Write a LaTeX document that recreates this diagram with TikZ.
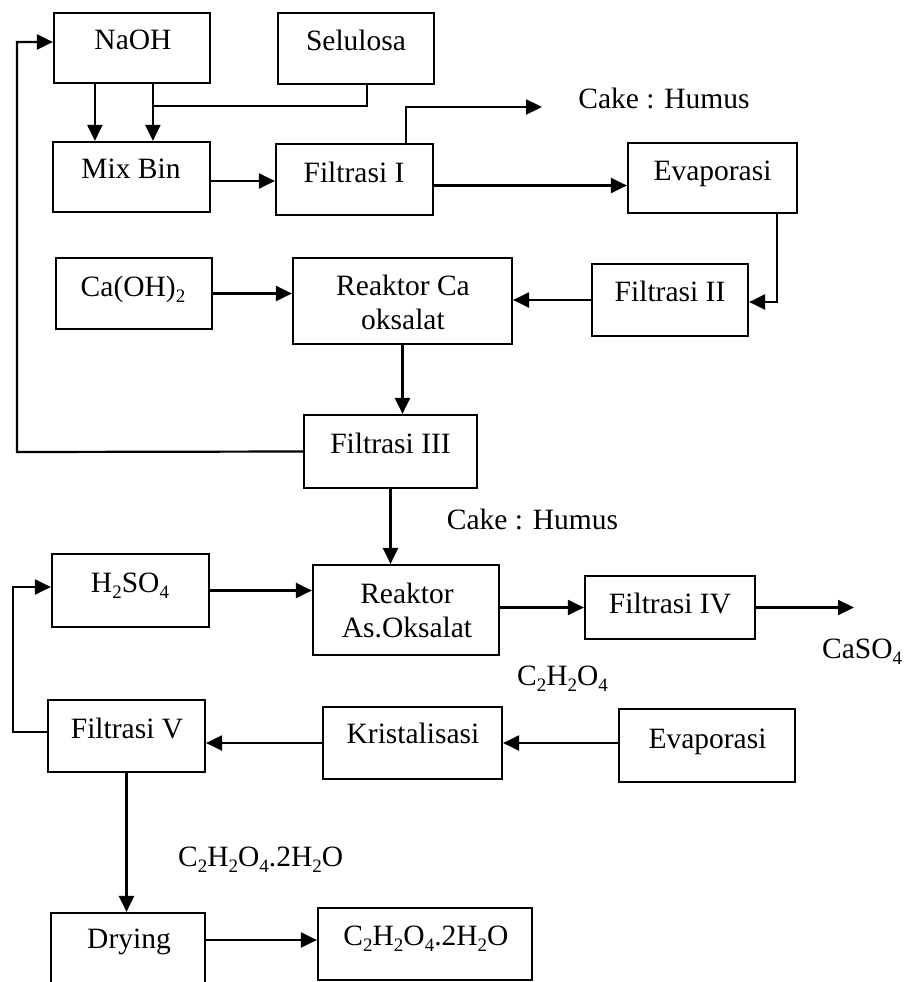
\documentclass[tikz,border=0pt]{standalone}
\usepackage{fontspec}
\setmainfont{Liberation Serif}
\usetikzlibrary{arrows.meta}
\newcommand\chs[1]{\raisebox{-0.22em}{\fontsize{19}{19}\selectfont #1}}
\begin{document}
\begin{tikzpicture}[x=1pt,y=-1pt,
  box/.style={draw,line width=2.2pt,inner sep=0pt},
  txt/.style={inner sep=0pt,anchor=base,align=center,font=\fontsize{29.5}{34}\selectfont},
  ltxt/.style={inner sep=0pt,anchor=base west,font=\fontsize{29.5}{34}\selectfont},
  conn/.style={line width=2.2pt},
  arr/.style={line width=2.2pt,-{Triangle[length=16pt,width=15pt]}}]
\useasboundingbox (0,0) rectangle (906,982);
% boxes
\node[box,minimum width=156pt,minimum height=70pt] (naoh) at (132,48) {};
\node[box,minimum width=156pt,minimum height=71pt] (sel) at (356,48.5) {};
\node[box,minimum width=157pt,minimum height=70pt] (mix) at (131.5,177) {};
\node[box,minimum width=157pt,minimum height=71pt] (f1) at (354.5,179.5) {};
\node[box,minimum width=169pt,minimum height=70pt] (evap1) at (712.5,178) {};
\node[box,minimum width=156pt,minimum height=72pt] (f2) at (670,300) {};
\node[box,minimum width=156pt,minimum height=71pt] (caoh) at (134,293.5) {};
\node[box,minimum width=219pt,minimum height=86pt] (rca) at (402.5,301) {};
\node[box,minimum width=173pt,minimum height=73pt] (f3) at (390.5,451.5) {};
\node[box,minimum width=157pt,minimum height=73pt] (h2so4) at (130.5,590.5) {};
\node[box,minimum width=186pt,minimum height=90pt] (ras) at (406,610) {};
\node[box,minimum width=170pt,minimum height=63pt] (f4) at (670,607.5) {};
\node[box,minimum width=157pt,minimum height=72pt] (f5) at (126.5,736) {};
\node[box,minimum width=179pt,minimum height=72pt] (kris) at (412.5,743) {};
\node[box,minimum width=176pt,minimum height=73pt] (evap2) at (707,745.5) {};
\node[box,minimum width=154pt,minimum height=82pt] (dry) at (128,954) {};
\node[box,minimum width=214pt,minimum height=72pt] (c2) at (425,944) {};
% texts
\node[txt] (naoh-t) at (133,50) {NaOH};
\node[txt] (sel-t) at (356,51) {Selulosa};
\node[txt] (mix-t) at (131,178) {Mix Bin};
\node[txt] (f1-t) at (354,182) {Filtrasi I};
\node[txt] (evap1-t) at (712.5,180) {Evaporasi};
\node[txt] (f2-t) at (670,301) {Filtrasi II};
\node[txt] (caoh-t) at (133,296) {Ca(OH)\chs{2}};
\node[txt] (rca-t) at (403,329) {Reaktor Ca\\oksalat};
\node[txt] (f3-t) at (390.5,453) {Filtrasi III};
\node[txt] (h2so4-t) at (130,592) {H\chs{2}SO\chs{4}};
\node[txt] (ras-t) at (407,637) {Reaktor\\As.Oksalat};
\node[txt] (f4-t) at (670,613) {Filtrasi IV};
\node[txt] (f5-t) at (127,738) {Filtrasi V};
\node[txt] (kris-t) at (413,743) {Kristalisasi};
\node[txt] (evap2-t) at (707.5,748) {Evaporasi};
\node[txt] (dry-t) at (129,948) {Drying};
\node[txt] (c2-t) at (426,945) {C\chs{2}H\chs{2}O\chs{4}.2H\chs{2}O};
% free labels
\node[txt] (cake1) at (664,108) {Cake : Humus};
\node[txt] (cake2) at (532.5,529) {Cake : Humus};
\node[ltxt] (caso4) at (822,658) {CaSO\chs{4}};
\node[ltxt] (c2h2o4) at (517,685) {C\chs{2}H\chs{2}O\chs{4}};
\node[ltxt] (c2lab) at (178,866) {C\chs{2}H\chs{2}O\chs{4}.2H\chs{2}O};
% helper coordinates
\coordinate (naA) at ([xshift=42pt]naoh.south west);
\coordinate (naB) at ([xshift=100pt]naoh.south west);
\coordinate (selA) at ([xshift=90pt]sel.south west);
\coordinate (j1) at (154,106);
\coordinate (mixo) at ([yshift=-4pt]mix.east);
\coordinate (f1top) at ([xshift=131pt]f1.north west);
\coordinate (cake1end) at (542,107);
\coordinate (f1o) at ([yshift=-6pt]f1.east);
\coordinate (evA) at ([xshift=150pt]evap1.south west);
\coordinate (f2in) at ([yshift=-2pt]f2.east);
\coordinate (l1) at (17,452);
\coordinate (naIn) at ([yshift=6pt]naoh.west);
\coordinate (caso4end) at (854,607.5);
\coordinate (f5o) at ([yshift=4pt]f5.west);
\coordinate (l2) at (13,732);
\coordinate (h2In) at ([yshift=3.5pt]h2so4.west);
\coordinate (dryo) at ([yshift=14pt]dry.east);
% connectors
\draw[arr] (naA) -- (naA |- mix.north);
\draw[arr] (naB) -- (naB |- mix.north);
\draw[conn] (selA) |- (j1);
\draw[arr] (mixo) -- (mixo -| f1.west);
\draw[arr] (f1top) |- (cake1end);
\draw[arr] (f1o) -- (f1o -| evap1.west);
\draw[arr] (evA) |- (f2in);
\draw[arr] (f2.west) -- (f2.west -| rca.east);
\draw[arr] (caoh.east) -- (caoh.east -| rca.west);
\draw[arr] (rca.south) -- (rca.south |- f3.north);
\draw[arr] (f3.west) -- (l1) |- (naIn);
\draw[arr] (f3.south) -- (f3.south |- ras.north);
\draw[arr] (h2so4.east) -- (h2so4.east -| ras.west);
\draw[arr] (f4.west -| ras.east) -- (f4.west);
\draw[arr] (f4.east) -- (caso4end);
\draw[arr] (kris.east -| evap2.west) -- (kris.east);
\draw[arr] (kris.west) -- (kris.west -| f5.east);
\draw[arr] (f5o) -- (l2) |- (h2In);
\draw[arr] (f5.south) -- (f5.south |- dry.north);
\draw[arr] (dryo) -- (dryo -| c2.west);
\end{tikzpicture}
\end{document}
